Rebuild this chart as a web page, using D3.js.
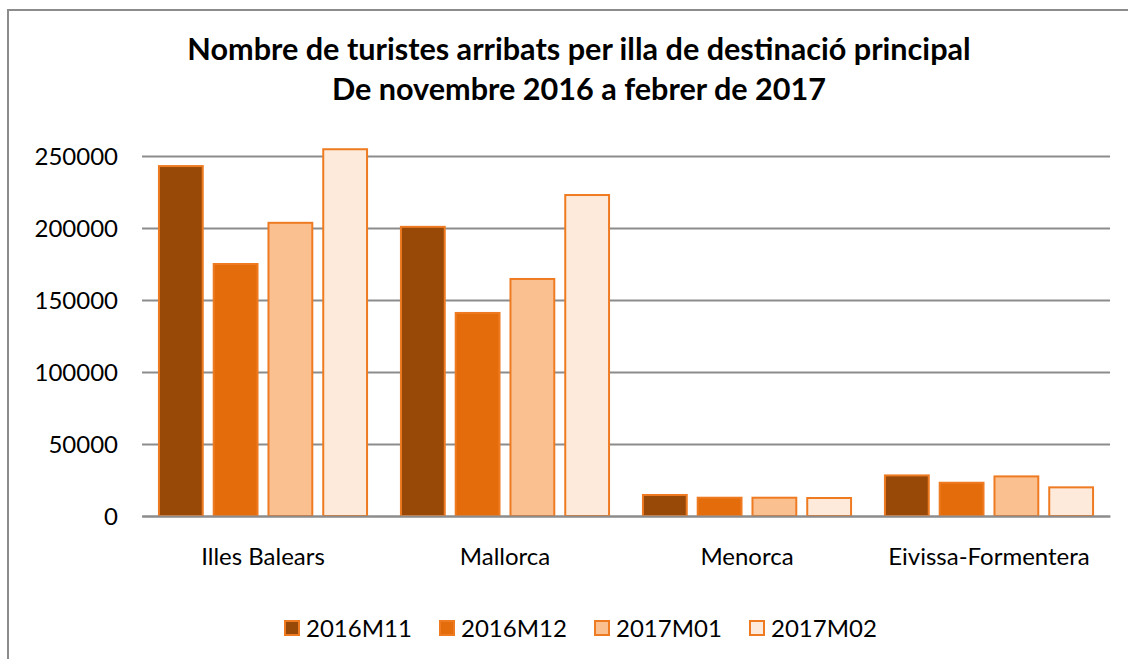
<!DOCTYPE html>
<html>
<head>
<meta charset="utf-8">
<script src="https://cdn.jsdelivr.net/npm/d3@7"></script>
<style>
  html, body { margin: 0; padding: 0; background: #fff; overflow: hidden; }
  svg { display: block; }
  svg text { font-family: Lato, "Open Sans", sans-serif; fill: #000; }
</style>
</head>
<body>
<div id="chart"></div>
<script>
// data
const islands = ['Illes Balears', 'Mallorca', 'Menorca', 'Eivissa-Formentera'];
const months = ['2016M11', '2016M12', '2017M01', '2017M02'];
const m11 = [243000, 200800, 14600, 28200];
const m12 = [175000, 141000, 12700, 23100];
const m01 = [203600, 164600, 12700, 27500];
const m02 = [254700, 222900, 12500, 19900];
const yTicks = [0, 50000, 100000, 150000, 200000, 250000];
const titleLines = ['Nombre de turistes arribats per illa de destinació principal', 'De novembre 2016 a febrer de 2017'];

const series = [m11, m12, m01, m02];
const colors = ['#984807', '#E46C0A', '#FAC090', '#FDEADA'];

const W = 1128, H = 659;
const margin = {t:156, r:18, b:143, l:142};
const innerWidth = W - margin.l - margin.r;
const innerHeight = H - margin.t - margin.b;

const svg = d3.select('#chart')
	.append('svg')
	.attr('width', W)
	.attr('height', H);

// outer frame (cropped on right & bottom)
svg.append('path')
	.attr('d', `M${W},10 H8 V${H}`)
	.style('fill', 'none')
	.style('stroke', '#8c8c8c')
	.style('stroke-width', 2);

// title
svg.append('g').selectAll('text')
	.data(titleLines)
	.join('text')
	.attr('x', 579)
	.attr('y', (d, i) => 60 + i * 40)
	.attr('text-anchor', 'middle')
	.style('font-weight', 'bold')
	.style('font-size', '30.6px')
	.text(d => d);

const scaleY = d3.scaleLinear().domain([0, 250000]).range([innerHeight, 0]);
const x0 = d3.scaleBand().domain(islands).range([0, innerWidth]).paddingInner(0.14).paddingOuter(0.07);
const x1 = d3.scaleBand().domain(d3.range(months.length)).range([0, x0.bandwidth()]).paddingInner(0.2);

const plot = svg.append('g')
	.attr('class', 'plot')
	.attr('transform', `translate(${margin.l}, ${margin.t})`);

const axisY = d3.axisLeft()
	.scale(scaleY)
	.tickValues(yTicks)
	.tickSize(-innerWidth)
	.tickPadding(24)
	.tickFormat(d => d);

plot.append('g')
	.attr('class', 'axis axis-y')
	.call(axisY)
	.call(g => g.select('.domain').remove())
	.call(g => g.selectAll('line').style('stroke', '#8c8c8c').style('stroke-width', 2))
	.call(g => g.selectAll('text').style('font-size', '24px').attr('dy', '0.36em'));

const groups = plot.selectAll('g.group')
	.data(islands)
	.join('g')
	.attr('class', 'group')
	.attr('transform', d => `translate(${x0(d)}, 0)`);

groups.selectAll('rect')
	.data((d, i) => series.map((s, j) => ({j, v: s[i]})))
	.join('rect')
	.attr('x', d => x1(d.j))
	.attr('y', d => scaleY(d.v))
	.attr('width', x1.bandwidth())
	.attr('height', d => innerHeight - scaleY(d.v))
	.style('fill', d => colors[d.j])
	.style('stroke', '#EE7B22')
	.style('stroke-width', 2);

// baseline
const axisX = d3.axisBottom().scale(x0).tickSize(0).tickPadding(32);
plot.append('g')
	.attr('class', 'axis axis-x')
	.attr('transform', `translate(0, ${innerHeight})`)
	.call(axisX)
	.call(g => g.select('.domain').style('stroke', '#8c8c8c').style('stroke-width', 2))
	.call(g => g.selectAll('text').style('font-size', '24px'));

// legend
const legend = svg.append('g')
	.attr('transform', 'translate(284, 628)');
const item = legend.selectAll('g')
	.data(months)
	.join('g')
	.attr('transform', (d, i) => `translate(${i * 155}, 0)`);
item.append('rect')
	.attr('x', 1).attr('y', -7)
	.attr('width', 14).attr('height', 14)
	.style('fill', (d, i) => colors[i])
	.style('stroke', '#EE7B22')
	.style('stroke-width', 2);
item.append('text')
	.attr('x', 22)
	.attr('dy', '0.36em')
	.style('font-size', '24px')
	.text(d => d);
</script>
</body>
</html>
